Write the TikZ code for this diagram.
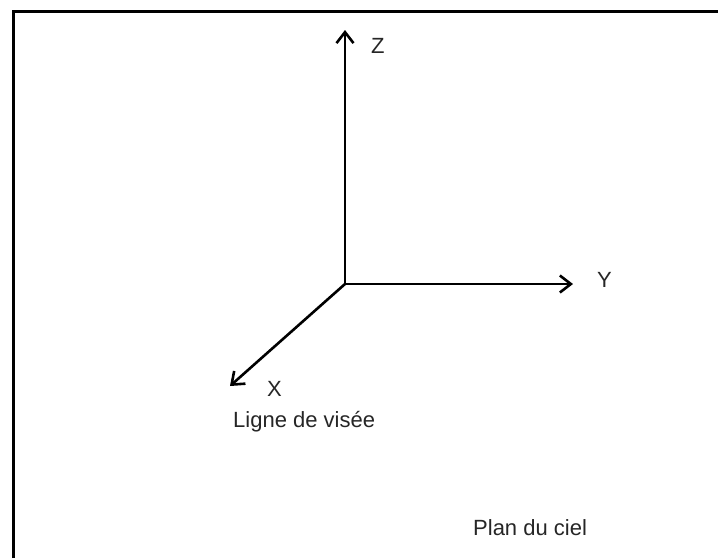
\documentclass[tikz,border=0pt]{standalone}
\usepackage{fontspec}
\setmainfont{Liberation Sans}
\usetikzlibrary{arrows.meta}
\begin{document}
\begin{tikzpicture}[x=1pt,y=-1pt,
  axis/.style={line width=2.6pt,-{Straight Barb[length=11pt,width=17pt,line width=2.6pt]}},
  lbl/.style={anchor=base west,inner sep=0pt,font=\fontsize{22}{26}\selectfont,text=black!85},
  frame/.style={line width=3pt}]
\useasboundingbox (0,0) rectangle (718,558);
\fill[white] (0,0) rectangle (718,558);
\coordinate (fa) at (13,558);
\coordinate (fb) at (13,11);
\coordinate (fc) at (718,11);
\draw[frame] (fa) -- (fb) -- (fc);
\coordinate (O) at (345,284);
\coordinate (Zt) at (345,30);
\coordinate (Yt) at (573,284);
\coordinate (Xt) at (230,386);
\draw[axis] (O) -- (Zt);
\draw[axis] (O) -- (Yt);
\draw[axis] (O) -- (Xt);
\node[lbl] (Z) at (371,53) {Z};
\node[lbl] (Y) at (597,287) {Y};
\node[lbl] (X) at (267,396) {X};
\node[lbl] (ldv) at (233,427) {Ligne de visée};
\node[lbl] (pdc) at (473,535) {Plan du ciel};
\end{tikzpicture}
\end{document}
